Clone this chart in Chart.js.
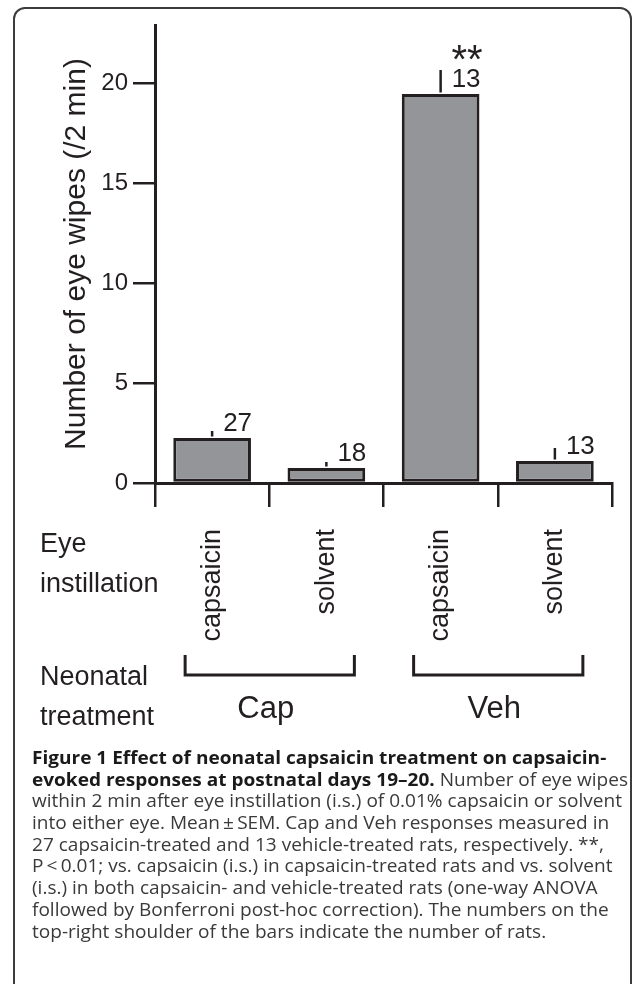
<!DOCTYPE html>
<html>
<head>
<meta charset="utf-8">
<script src="https://cdn.jsdelivr.net/npm/chart.js@4/dist/chart.umd.min.js"></script>
<style>
  html, body { margin: 0; padding: 0; background: #fff; }
  canvas { display: block; }
</style>
</head>
<body>
<canvas id="fig" width="633" height="984"></canvas>
<script>
// ---------------------------
// Data
// ---------------------------
const categories = ['capsaicin', 'solvent', 'capsaicin', 'solvent']; // eye instillation
const groups = ['Cap', 'Veh'];                  // neonatal treatment
const groupMembers = [[0, 1], [2, 3]];
const meanWipes = [2.25, 0.75, 19.45, 1.1];
const semWipes = [0.35, 0.3, 1.2, 0.65];
const ratCounts = [27, 18, 13, 13];
const significance = ['', '', '**', ''];
const yTicks = [0, 5, 10, 15, 20];
const yMax = 22.9;

const captionLines = [
  [['Figure 1 Effect of neonatal capsaicin treatment on capsaicin-', true]],
  [['evoked responses at postnatal days 19\u201320.', true], [' Number of eye wipes', false]],
  [['within 2 min after eye instillation (i.s.) of 0.01% capsaicin or solvent', false]],
  [['into either eye. Mean\u2009\u00b1\u2009SEM. Cap and Veh responses measured in', false]],
  [['27 capsaicin-treated and 13 vehicle-treated rats, respectively. **,', false]],
  [['P\u2009<\u20090.01; vs. capsaicin (i.s.) in capsaicin-treated rats and vs. solvent', false]],
  [['(i.s.) in both capsaicin- and vehicle-treated rats (one-way ANOVA', false]],
  [['followed by Bonferroni post-hoc correction). The numbers on the', false]],
  [['top-right shoulder of the bars indicate the number of rats.', false]]
];

const ink = '#231f20';
const sans = '"Liberation Sans", Arial, Helvetica, sans-serif';
const capFont = '"Open Sans", "Noto Sans", sans-serif';

// ---------------------------
// Error bars, n labels, stars
// ---------------------------
const barNotes = {
  id: 'barNotes',
  afterDatasetsDraw(chart) {
    const { ctx, scales: { x, y } } = chart;
    ctx.save();
    ctx.strokeStyle = ink;
    ctx.fillStyle = ink;
    ctx.lineWidth = 2.5;
    meanWipes.forEach((m, i) => {
      const px = x.getPixelForValue(i);
      const top = y.getPixelForValue(m);
      const errTop = y.getPixelForValue(m + semWipes[i]);
      ctx.beginPath();
      ctx.moveTo(px, top - 1.5);
      ctx.lineTo(px, errTop);
      ctx.stroke();

      ctx.font = '26px ' + sans;
      ctx.textAlign = 'left';
      ctx.textBaseline = 'alphabetic';
      const label = String(ratCounts[i]);
      const lx = px + 11;
      const ly = top - 7;
      ctx.fillText(label, lx, ly);

      if (significance[i]) {
        const w = ctx.measureText(label).width;
        ctx.font = '40px ' + sans;
        ctx.textAlign = 'center';
        ctx.fillText(significance[i], lx + w / 2 + 1, ly - 14);
      }
    });
    ctx.restore();
  }
};

// ---------------------------
// Frame, side labels, brackets, caption
// ---------------------------
const figureText = {
  id: 'figureText',
  afterDraw(chart) {
    const { ctx, scales: { x } } = chart;
    ctx.save();

    // rounded frame
    ctx.strokeStyle = '#3c3c3c';
    ctx.lineWidth = 2;
    ctx.beginPath();
    ctx.moveTo(14, 1000);
    ctx.lineTo(14, 19);
    ctx.arcTo(14, 8, 25, 8, 11);
    ctx.lineTo(620, 8);
    ctx.arcTo(631, 8, 631, 19, 11);
    ctx.lineTo(631, 1000);
    ctx.stroke();

    // row headers
    ctx.fillStyle = ink;
    ctx.font = '27px ' + sans;
    ctx.textAlign = 'left';
    ctx.textBaseline = 'alphabetic';
    ctx.fillText('Eye', 40, 552);
    ctx.fillText('instillation', 40, 592);
    ctx.fillText('Neonatal', 40, 685);
    ctx.fillText('treatment', 40, 725);

    // group brackets + names
    ctx.strokeStyle = ink;
    ctx.lineWidth = 3;
    groups.forEach((g, gi) => {
      const members = groupMembers[gi];
      const x0 = x.getPixelForValue(members[0]) - 27;
      const x1 = x.getPixelForValue(members[members.length - 1]) + 28;
      ctx.beginPath();
      ctx.moveTo(x0, 655);
      ctx.lineTo(x0, 675);
      ctx.lineTo(x1, 675);
      ctx.lineTo(x1, 655);
      ctx.stroke();
      ctx.font = '31px ' + sans;
      ctx.textAlign = 'center';
      ctx.fillText(g, (x0 + x1) / 2 - 4, 718);
    });

    // caption
    ctx.font = '17.5px ' + capFont;
    const sx = 590 / ctx.measureText(captionLines[2][0][0]).width;
    ctx.textAlign = 'left';
    ctx.textBaseline = 'middle';
    captionLines.forEach((segs, li) => {
      const yy = 759 + li * 21.7;
      ctx.save();
      ctx.translate(32, yy);
      ctx.scale(sx, 1);
      let cx = 0;
      segs.forEach(([t, bold]) => {
        ctx.font = (bold ? 'bold ' : '') + '17.5px ' + capFont;
        ctx.fillStyle = bold ? '#1a1a1a' : '#3a3a3a';
        ctx.fillText(t, cx, 0);
        cx += ctx.measureText(t).width;
      });
      ctx.restore();
    });

    ctx.restore();
  }
};

// ---------------------------
// Chart
// ---------------------------
new Chart(document.getElementById('fig'), {
  type: 'bar',
  data: {
    labels: categories,
    datasets: [{
      data: meanWipes,
      backgroundColor: '#939598',
      borderColor: ink,
      borderWidth: 3,
      borderSkipped: false,
      categoryPercentage: 1,
      barPercentage: 0.68
    }]
  },
  options: {
    responsive: false,
    animation: false,
    devicePixelRatio: 1,
    layout: { padding: { left: 0, top: 25, right: 21, bottom: 0 } },
    plugins: { legend: { display: false }, tooltip: { enabled: false } },
    scales: {
      x: {
        offset: true,
        grid: { offset: true, drawOnChartArea: false, drawTicks: true, tickLength: 24, color: ink, lineWidth: 2.5 },
        border: { display: true, color: ink, width: 3 },
        ticks: {
          color: ink,
          font: { family: sans, size: 27 },
          minRotation: 90,
          maxRotation: 90,
          autoSkip: false,
          padding: 22
        },
        afterFit(scale) { scale.height = 984 - 483; }
      },
      y: {
        min: 0,
        max: yMax,
        grid: { drawOnChartArea: false, drawTicks: true, tickLength: 22, color: ink, lineWidth: 2.5 },
        border: { display: true, color: ink, width: 3 },
        ticks: { color: ink, font: { family: sans, size: 24 }, padding: 5 },
        afterBuildTicks(scale) { scale.ticks = yTicks.map(v => ({ value: v })); },
        afterFit(scale) { scale.width = 155; },
        title: {
          display: true,
          text: 'Number of eye wipes (/2 min)',
          color: ink,
          font: { family: sans, size: 30 },
          padding: { top: 59, bottom: 0 }
        }
      }
    }
  },
  plugins: [barNotes, figureText]
});
</script>
</body>
</html>
